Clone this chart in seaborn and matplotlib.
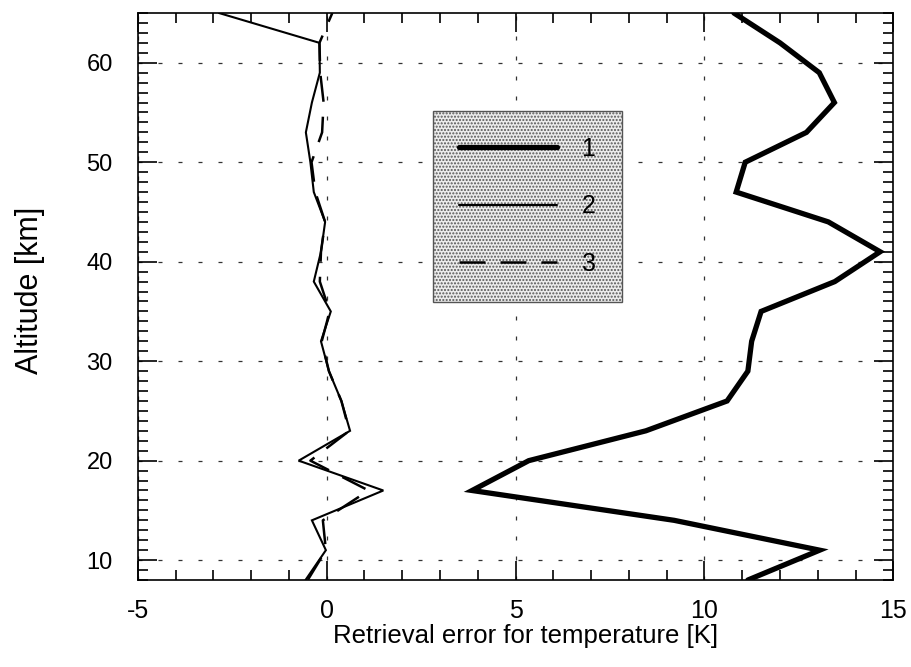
import matplotlib
matplotlib.use("Agg")
import matplotlib.pyplot as plt
from matplotlib.lines import Line2D
from matplotlib.ticker import MultipleLocator
import numpy as np
import pandas as pd
import seaborn as sns

# Altitude grid of the retrieval [km]
altitude = [8, 11, 14, 17, 20, 23, 26, 29, 32, 35, 38, 41, 44, 47, 50, 53, 56, 59, 62, 65]

# Retrieval error for temperature [K]
error_1 = [11.15, 13.05, 9.20, 3.85, 5.35, 8.45, 10.60, 11.15, 11.25, 11.50,
           13.45, 14.65, 13.28, 10.84, 11.08, 12.70, 13.44, 13.04, 12.00, 10.78]
error_2 = [-0.56, -0.02, -0.39, 1.50, -0.74, 0.62, 0.39, 0.06, -0.15, 0.11,
           -0.34, -0.15, -0.04, -0.34, -0.43, -0.55, -0.39, -0.18, -0.19, -2.85]
error_3 = [-0.50, -0.02, -0.10, 1.11, -0.43, 0.60, 0.39, 0.06, -0.13, 0.08,
           -0.18, -0.15, -0.04, -0.30, -0.40, -0.12, -0.08, -0.17, -0.19, 0.15]

series_labels = ["1", "2", "3"]

sns.set_theme(style="ticks")
plt.rcParams["font.family"] = ["Liberation Sans", "DejaVu Sans"]
plt.rcParams.update({
    "text.color": "black",
    "axes.labelcolor": "black",
    "xtick.color": "black",
    "ytick.color": "black",
    "xtick.labelcolor": "black",
    "ytick.labelcolor": "black",
})

fig = plt.figure(figsize=(9.11, 6.67), dpi=100)
ax = fig.add_axes([0.1512, 0.1304, 0.8294, 0.8501])

df = pd.DataFrame({
    "alt": altitude * 3,
    "err": error_1 + error_2 + error_3,
    "curve": [series_labels[0]] * len(altitude)
             + [series_labels[1]] * len(altitude)
             + [series_labels[2]] * len(altitude),
})

styles = {
    "1": dict(lw=3.8, ls="-"),
    "2": dict(lw=1.5, ls="-"),
    "3": dict(lw=1.8, ls=(0, (10.4, 6.0))),
}

handles = []
for lab in series_labels:
    sub = df[df["curve"] == lab]
    sns.lineplot(data=sub, x="err", y="alt", sort=False, estimator=None,
                 orient="y", color="black", lw=styles[lab]["lw"],
                 ls=styles[lab]["ls"], ax=ax, legend=False,
                 solid_joinstyle="miter", zorder=3)
    handles.append(Line2D([], [], color="black", lw=styles[lab]["lw"],
                          ls=styles[lab]["ls"]))

ax.set_xlim(-5, 15)
ax.set_ylim(8, 65)
ax.xaxis.set_major_locator(MultipleLocator(5))
ax.xaxis.set_minor_locator(MultipleLocator(1))
ax.yaxis.set_major_locator(MultipleLocator(10))
ax.yaxis.set_minor_locator(MultipleLocator(1))

ax.grid(True, which="major", color="#333333", lw=0.9,
        ls=(0, (3.2, 12.8)), zorder=1)
ax.tick_params(which="both", direction="in", top=True, right=True,
               color="black", width=1.2)
ax.tick_params(which="major", length=14)
ax.tick_params(which="minor", length=7)
ax.tick_params(axis="x", which="major", labelsize=18, pad=14)
ax.tick_params(axis="y", which="major", labelsize=17, pad=18)
for sp in ax.spines.values():
    sp.set_color("black")
    sp.set_linewidth(1.2)

ax.set_xticks([-5, 0, 5, 10, 15])
ax.set_xticklabels(["-5", "0", "5", "10", "15"])
ax.set_xlabel("Retrieval error for temperature [K]", fontsize=18.5)
ax.set_ylabel("Altitude [km]", fontsize=22)
ax.xaxis.set_label_coords(0.513, -0.0774)
ax.yaxis.set_label_coords(-0.123, 0.511)

leg = ax.legend(handles, series_labels, loc="upper left",
                bbox_to_anchor=(0.3906, 0.8277), fontsize=18,
                handlelength=3.9, handletextpad=1.0, labelspacing=1.34,
                borderpad=1.05, borderaxespad=0, fancybox=False,
                frameon=True, framealpha=1)
frame = leg.get_frame()
frame.set_facecolor("#ececec")
frame.set_edgecolor("#555555")
frame.set_linewidth(1.0)
frame.set_hatch(".....")

fig.savefig("out.png", dpi=100)
